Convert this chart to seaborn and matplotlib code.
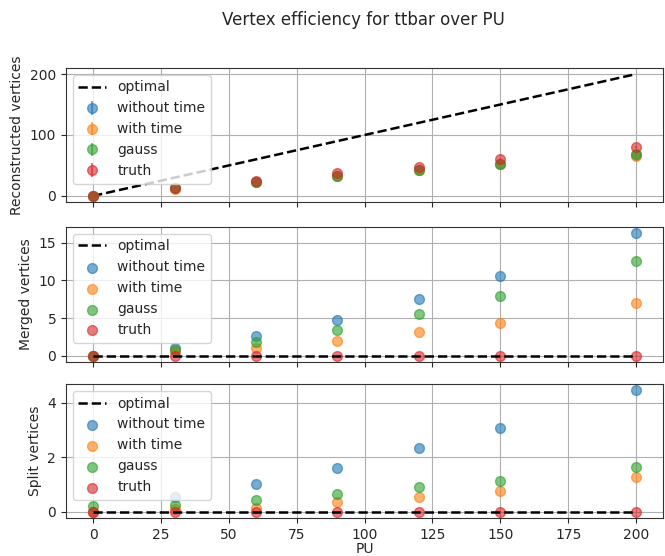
import matplotlib
matplotlib.use("Agg")
import matplotlib.pyplot as plt
import seaborn as sns
import pandas as pd

pu = [0, 30, 60, 90, 120, 150, 200]
series_names = ["without time", "with time", "gauss", "truth"]

reco_without = [0.5, 12.5, 23.0, 33.5, 43.0, 52.5, 67.5]
reco_with = [0.5, 12.0, 22.5, 33.0, 42.5, 52.0, 66.0]
reco_gauss = [0.5, 12.3, 23.0, 33.0, 43.0, 52.5, 68.0]
reco_truth = [0.5, 13.0, 24.0, 37.0, 48.0, 61.0, 80.0]
reco_err = [0.2, 0.8, 1.0, 1.2, 1.3, 1.5, 1.7]

merged_without = [0.0, 1.05, 2.6, 4.8, 7.55, 10.6, 16.3]
merged_with = [0.0, 0.6, 1.05, 1.95, 3.1, 4.35, 6.95]
merged_gauss = [0.0, 0.8, 1.8, 3.45, 5.6, 7.95, 12.6]
merged_truth = [0.0, 0.0, 0.0, 0.0, 0.0, 0.0, 0.0]

split_without = [0.0, 0.53, 1.02, 1.62, 2.34, 3.07, 4.46]
split_with = [0.0, 0.12, 0.16, 0.37, 0.56, 0.78, 1.29]
split_gauss = [0.2, 0.25, 0.45, 0.66, 0.9, 1.15, 1.65]
split_truth = [0.0, 0.0, 0.0, 0.0, 0.0, 0.0, 0.0]

optimal_reco = pu
optimal_zero = [0, 0, 0, 0, 0, 0, 0]

sns.set_style("ticks")
plt.rcParams["font.family"] = ["DejaVu Sans"]

colors = sns.color_palette("tab10", 4)

fig = plt.figure(figsize=(6.65, 5.56), dpi=100)
left, width = 0.0992, 0.898
ax1 = fig.add_axes([left, 0.6367, width, 0.241])
ax2 = fig.add_axes([left, 0.349, width, 0.243])
ax3 = fig.add_axes([left, 0.0683, width, 0.241])

fig.suptitle("Vertex efficiency for ttbar over PU", x=0.546, y=0.98, fontsize=12)

# Top panel
sns.lineplot(x=pu, y=optimal_reco, ax=ax1, color="k", linestyle="--", linewidth=1.8, label="optimal")
for name, vals, c in zip(series_names, [reco_without, reco_with, reco_gauss, reco_truth], colors):
    ax1.errorbar(pu, vals, yerr=reco_err, fmt="o", color=c, alpha=0.6, markersize=7, label=name)
ax1.set_ylabel("Reconstructed vertices")
ax1.set_yticks([0, 100, 200])

def scatter_panel(ax, data, ylabel):
    sns.lineplot(x=pu, y=optimal_zero, ax=ax, color="k", linestyle="--", linewidth=1.8,
                 label="optimal", zorder=3)
    for name, vals, c in zip(series_names, data, colors):
        df = pd.DataFrame({"PU": pu, "v": vals})
        sns.scatterplot(data=df, x="PU", y="v", ax=ax, color=c, alpha=0.6, s=50,
                        edgecolor=c, linewidth=1, label=name, zorder=2)
    ax.set_ylabel(ylabel)

scatter_panel(ax2, [merged_without, merged_with, merged_gauss, merged_truth], "Merged vertices")
ax2.set_yticks([0, 5, 10, 15])
scatter_panel(ax3, [split_without, split_with, split_gauss, split_truth], "Split vertices")
ax3.set_yticks([0, 2, 4])

for ax in (ax1, ax2, ax3):
    ax.grid(True, color="#b0b0b0", linewidth=0.8)
    ax.set_axisbelow(True)
    ax.set_xlim(-10, 210)
    ax.set_xticks([0, 25, 50, 75, 100, 125, 150, 175, 200])
    ax.legend(loc="upper left", fontsize=10)
    for sp in ax.spines.values():
        sp.set_color("#333333")
        sp.set_visible(True)
    ax.tick_params(labelsize=10)

ax1.set_xticklabels([])
ax2.set_xticklabels([])
ax1.set_xlabel("")
ax2.set_xlabel("")
ax3.set_xlabel("PU", labelpad=0)
ax1.set_ylim(-10, 210)

fig.savefig("out.png", dpi=100)
